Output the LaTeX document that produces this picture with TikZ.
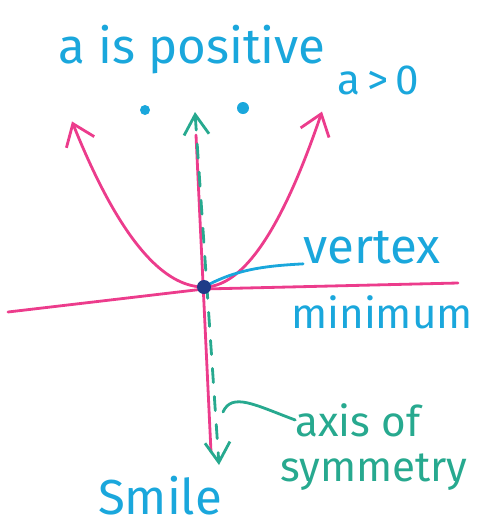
\documentclass[tikz,border=0pt]{standalone}
\usepackage{fontspec}
\setmainfont{Fira Sans}
\usetikzlibrary{arrows.meta,positioning}
\definecolor{cpink}{HTML}{EC3C8C}
\definecolor{cblue}{HTML}{1AA7DC}
\definecolor{cteal}{HTML}{27A98F}
\definecolor{cnavy}{HTML}{1F3C88}

\begin{document}
\begin{tikzpicture}[
  x=0.02cm,y=-0.02cm,
  lbl/.style={inner sep=0pt,text=cblue},
  big/.style={font=\fontsize{28}{30}\selectfont},
  mid/.style={font=\fontsize{24}{26}\selectfont},
  pinkpen/.style={cpink,line width=1.6pt,line cap=round},
  tealpen/.style={cteal,line width=1.6pt,line cap=round},
  bluepen/.style={cblue,line width=1.6pt,line cap=round},
  barb/.style={-{Straight Barb[length=4mm,width=6mm,line width=1.6pt]}}]
  \useasboundingbox (0,0) rectangle (478,532);
  % labels
  \node[lbl,big] (title) at (192,50) {a is positive};
  \node[lbl,mid] (agt) at (378,80) {a\,>\,0};
  \node[lbl,big] (vtx) at (372,248) {vertex};
  \node[lbl,mid] (minlbl) at (382,312) {minimum};
  \node[lbl,mid,text=cteal] (axs) at (358,420) {axis of};
  \node[lbl,mid,text=cteal] (sym) at (374,472) {symmetry};
  \node[lbl,big] (smile) at (160,496) {Smile};
  % axes
  \draw[pinkpen] (8,312) -- (204,289) -- (458,283);
  \draw[pinkpen] (196,135) -- (211,452);
  % axis of symmetry
  \draw[tealpen,dash pattern=on 8pt off 8pt,{Straight Barb[length=4mm,width=5mm,line width=1.6pt]}-{Straight Barb[length=4mm,width=5mm,line width=1.6pt]}]
    (195,112) -- (219,465);
  % parabola
  \coordinate (vertex) at (204,287);
  \draw[pinkpen,barb] plot[domain=0:132,samples=40,smooth] ({204-\x},{287-0.95*(\x/10)^2});
  \draw[pinkpen,barb] plot[domain=0:118,samples=40,smooth] ({204+\x},{287-1.26*(\x/10)^2});
  % eyes
  \fill[cblue] (145,110) circle (5);
  \fill[cblue] (243,108) circle (6);
  % pointers
  \draw[bluepen] (vertex) .. controls (235,270) and (262,266) .. (vtx.base west);
  \coordinate (axpt) at (223,412);
  \draw[tealpen] (axpt) .. controls (232,392) and (255,405) .. (axs.west);
  \fill[cnavy] (vertex) circle (7);
\end{tikzpicture}
\end{document}
